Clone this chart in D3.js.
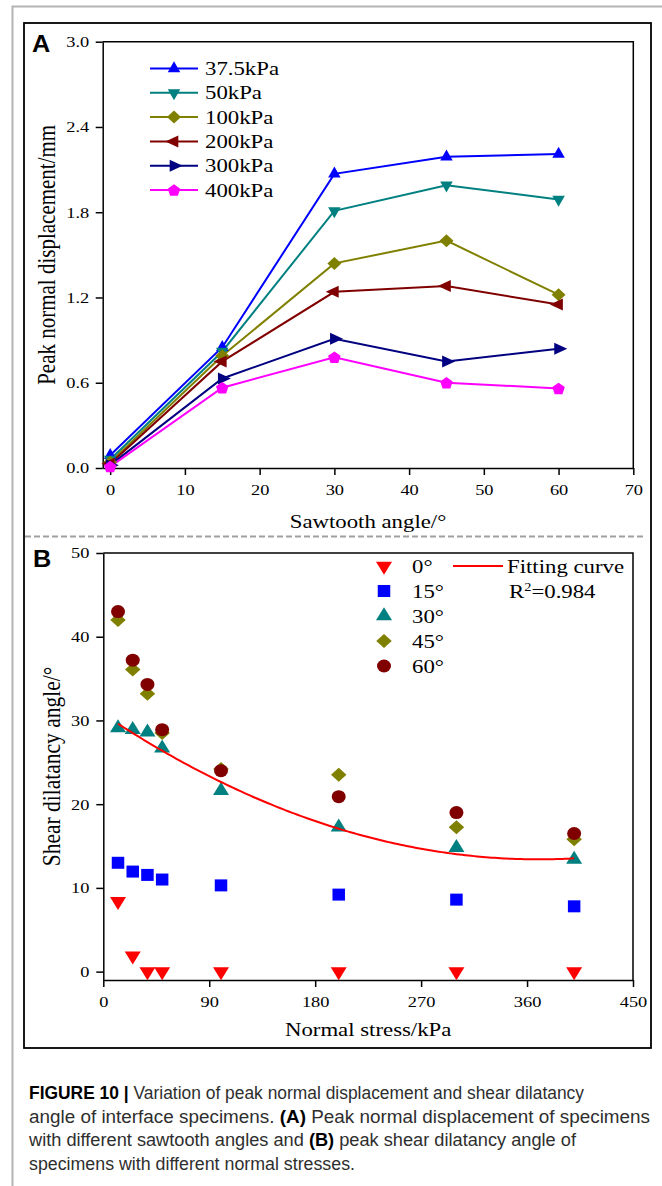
<!DOCTYPE html>
<html>
<head>
<meta charset="utf-8">
<script src="https://cdn.jsdelivr.net/npm/d3@7"></script>
<style>
  html, body { margin: 0; padding: 0; background: #fff; }
  svg { display: block; }
</style>
</head>
<body>
<svg id="fig" width="662" height="1186"></svg>
<script>
// ---------- Panel A: peak normal displacement vs sawtooth angle ----------
const sawtoothAngles = [0, 15, 30, 45, 60];
const pressureLabels = ["37.5kPa", "50kPa", "100kPa", "200kPa", "300kPa", "400kPa"];
const disp37_5kPa = [0.09, 0.85, 2.07, 2.19, 2.21];
const disp50kPa   = [0.06, 0.82, 1.81, 1.99, 1.89];
const disp100kPa  = [0.04, 0.79, 1.44, 1.60, 1.22];
const disp200kPa  = [0.03, 0.75, 1.24, 1.28, 1.15];
const disp300kPa  = [0.02, 0.63, 0.91, 0.75, 0.84];
const disp400kPa  = [0.01, 0.565, 0.78, 0.60, 0.56];
const dispTicks  = [0, 0.6, 1.2, 1.8, 2.4, 3.0];
const angleTicks = [0, 10, 20, 30, 40, 50, 60, 70];

// ---------- Panel B: shear dilatancy angle vs normal stress ----------
const normalStresses = [12.5, 25, 37.5, 50, 100, 200, 300, 400];
const angleLabels = ["0°", "15°", "30°", "45°", "60°"];
const dilatancy0  = [8.4, 1.9, 0, 0, 0, 0, 0, 0];
const dilatancy15 = [13.0, 11.95, 11.55, 11.0, 10.3, 9.2, 8.6, 7.8];
const dilatancy30 = [29.1, 28.9, 28.6, 26.7, 21.6, 17.25, 14.8, 13.4];
const dilatancy45 = [42.0, 36.1, 33.2, 28.5, 24.2, 23.5, 17.25, 15.8];
const dilatancy60 = [43.0, 37.2, 34.3, 28.9, 24.0, 20.9, 19.0, 16.5];
const dilatancyTicks = [0, 10, 20, 30, 40, 50];
const stressTicks = [0, 90, 180, 270, 360, 450];
// quadratic fit y = c0 + c1*x + c2*x^2 over the tested stress range
const fitCoefficients = [30.76, -0.0938, 0.0001268];
const fitStressRange = [12.5, 400];
const fitR2 = "0.984";

// ---------- caption ----------
const captionLines = [
  [["FIGURE 10 | ", true], ["Variation of peak normal displacement and shear dilatancy", false]],
  [["angle of interface specimens. ", false], ["(A)", true], [" Peak normal displacement of specimens", false]],
  [["with different sawtooth angles and ", false], ["(B)", true], [" peak shear dilatancy angle of", false]],
  [["specimens with different normal stresses.", false]]
];

// ---------- styling ----------
const SERIF = "'Liberation Serif','Times New Roman',serif";
const SANS = "'Liberation Sans',Arial,Helvetica,sans-serif";
const SX = 1.2; // horizontal widening of the plot lettering

const seriesA = [
  { label: pressureLabels[0], values: disp37_5kPa, color: "#0000ff", shape: "triangle-up",    w: 12.5, h: 11 },
  { label: pressureLabels[1], values: disp50kPa,   color: "#008080", shape: "triangle-down",  w: 12.5, h: 11 },
  { label: pressureLabels[2], values: disp100kPa,  color: "#808000", shape: "diamond",        w: 14,   h: 13 },
  { label: pressureLabels[3], values: disp200kPa,  color: "#800000", shape: "triangle-left",  w: 13,   h: 12 },
  { label: pressureLabels[4], values: disp300kPa,  color: "#000080", shape: "triangle-right", w: 13,   h: 12 },
  { label: pressureLabels[5], values: disp400kPa,  color: "#ff00ff", shape: "pentagon",       w: 12.5, h: 11.5 }
];
const seriesB = [
  { label: angleLabels[0], values: dilatancy0,  color: "#ff0000", shape: "triangle-down", w: 16,   h: 13 },
  { label: angleLabels[1], values: dilatancy15, color: "#0000ff", shape: "square",        w: 12.5, h: 12 },
  { label: angleLabels[2], values: dilatancy30, color: "#008080", shape: "triangle-up",   w: 16,   h: 13 },
  { label: angleLabels[3], values: dilatancy45, color: "#808000", shape: "diamond",       w: 15.5, h: 14 },
  { label: angleLabels[4], values: dilatancy60, color: "#800000", shape: "circle",        w: 14,   h: 13 }
];

function markerPath(shape, w, h) {
  const a = w / 2, b = h / 2;
  switch (shape) {
    case "triangle-up":    return `M0,${-2 * h / 3}L${a},${h / 3}L${-a},${h / 3}Z`;
    case "triangle-down":  return `M0,${2 * h / 3}L${a},${-h / 3}L${-a},${-h / 3}Z`;
    case "triangle-left":  return `M${-2 * w / 3},0L${w / 3},${-b}L${w / 3},${b}Z`;
    case "triangle-right": return `M${2 * w / 3},0L${-w / 3},${-b}L${-w / 3},${b}Z`;
    case "square":         return `M${-a},${-b}H${a}V${b}H${-a}Z`;
    case "diamond":        return `M0,${-b}L${a},0L0,${b}L${-a},0Z`;
    case "circle":         return `M${a},0A${a},${b} 0 1,1 ${-a},0A${a},${b} 0 1,1 ${a},0Z`;
    case "pentagon": {
      const rx = a / 0.951, ry = h / 1.809, off = (ry - 0.809 * ry) / 2;
      const pts = d3.range(5).map(k => {
        const ang = -Math.PI / 2 + k * 2 * Math.PI / 5;
        return [rx * Math.cos(ang), ry * Math.sin(ang) + off];
      });
      return "M" + pts.map(p => p.join(",")).join("L") + "Z";
    }
  }
  return "";
}

function addText(parent, x, y, str, opts = {}) {
  const tf = `translate(${x},${y}) scale(${opts.sx ?? SX},1)` + (opts.rotate ? ` rotate(${opts.rotate})` : "");
  return parent.append("text")
    .attr("transform", tf)
    .attr("text-anchor", opts.anchor || "start")
    .attr("font-family", opts.family || SERIF)
    .attr("font-size", opts.size || 19)
    .attr("font-weight", opts.weight || "normal")
    .attr("fill", opts.fill || "#000")
    .text(str);
}

function styleAxis(g, leftOffset) {
  g.attr("font-family", null).attr("font-size", null);
  g.select(".domain").attr("stroke", "#000").attr("stroke-width", 1.5);
  g.selectAll(".tick line").attr("stroke", "#000").attr("stroke-width", 1.5);
  const t = g.selectAll(".tick text")
    .attr("font-family", SERIF).attr("font-size", 15.3).attr("fill", "#000")
    .attr("transform", `scale(${SX},1)`);
  if (leftOffset) t.attr("x", -leftOffset / SX);
}

const svg = d3.select("#fig");

// page frame and figure border
svg.append("path").attr("d", "M12.5,1186V6.5H662")
  .attr("fill", "none").attr("stroke", "#b4b4b4").attr("stroke-width", 2);
svg.append("rect").attr("x", 24).attr("y", 23).attr("width", 627).attr("height", 1025)
  .attr("fill", "none").attr("stroke", "#000").attr("stroke-width", 1.8);
svg.append("line").attr("x1", 25).attr("x2", 646).attr("y1", 536.5).attr("y2", 536.5)
  .attr("stroke", "#a0a0a0").attr("stroke-width", 2).attr("stroke-dasharray", "6,3");

// ================= Panel A =================
const gA = svg.append("g");
const xA = d3.scaleLinear().domain([-1, 70]).range([102.7, 633.3]);
const yA = d3.scaleLinear().domain([0, 3]).range([468, 41.7]);

gA.append("path")
  .attr("d", `M${xA.range()[0]},${yA.range()[1]}H${xA.range()[1]}V${yA.range()[0]}`)
  .attr("fill", "none").attr("stroke", "#000").attr("stroke-width", 1.5);

gA.append("g").attr("transform", `translate(0,${yA.range()[0]})`)
  .call(d3.axisBottom(xA).tickValues(angleTicks).tickSize(7).tickPadding(9).tickSizeOuter(0).tickFormat(d3.format("d")))
  .call(g => styleAxis(g));
gA.append("g").attr("transform", `translate(${xA.range()[0]},0)`)
  .call(d3.axisLeft(yA).tickValues(dispTicks).tickSize(7).tickPadding(6).tickSizeOuter(0).tickFormat(d3.format(".1f")))
  .call(g => styleAxis(g, 13.5));

const lineA = d3.line().x((d, i) => xA(sawtoothAngles[i])).y(d => yA(d));
seriesA.forEach(s => {
  gA.append("path").attr("d", lineA(s.values))
    .attr("fill", "none").attr("stroke", s.color).attr("stroke-width", 2);
});
seriesA.forEach(s => {
  gA.append("g").selectAll("path").data(s.values).join("path")
    .attr("transform", (d, i) => `translate(${xA(sawtoothAngles[i])},${yA(d)})`)
    .attr("d", markerPath(s.shape, s.w, s.h))
    .attr("fill", s.color);
});

// legend A
const legA = gA.append("g");
seriesA.forEach((s, i) => {
  const y = 68.5 + i * 24.3;
  legA.append("line").attr("x1", 150).attr("x2", 198).attr("y1", y).attr("y2", y)
    .attr("stroke", s.color).attr("stroke-width", 2);
  legA.append("path").attr("transform", `translate(174,${y})`)
    .attr("d", markerPath(s.shape, s.w, s.h)).attr("fill", s.color);
  addText(legA, 205, y + 6.5, s.label, { size: 19 });
});

addText(gA, 32, 52, "A", { family: SANS, weight: "bold", size: 23, sx: 1.1 });
addText(gA, (xA.range()[0] + xA.range()[1]) / 2, 528, "Sawtooth angle/°", { size: 19, anchor: "middle" });
addText(gA, 55, (yA.range()[0] + yA.range()[1]) / 2, "Peak normal displacement/mm", { size: 21, anchor: "middle", rotate: -90 });

// ================= Panel B =================
const gB = svg.append("g");
const xB = d3.scaleLinear().domain([0, 450]).range([103.3, 633]);
const yB = d3.scaleLinear().domain([-1, 50]).range([980, 553]);

gB.append("path")
  .attr("d", `M${xB.range()[0]},${yB.range()[1]}H${xB.range()[1]}V${yB.range()[0]}`)
  .attr("fill", "none").attr("stroke", "#000").attr("stroke-width", 1.5);

gB.append("g").attr("transform", `translate(0,${yB.range()[0]})`)
  .call(d3.axisBottom(xB).tickValues(stressTicks).tickSize(7).tickPadding(9).tickSizeOuter(0).tickFormat(d3.format("d")))
  .call(g => styleAxis(g));
gB.append("g").attr("transform", `translate(${xB.range()[0]},0)`)
  .call(d3.axisLeft(yB).tickValues(dilatancyTicks).tickSize(7).tickPadding(7).tickSizeOuter(0).tickFormat(d3.format("d")))
  .call(g => styleAxis(g, 14));

seriesB.forEach(s => {
  gB.append("g").selectAll("path").data(s.values).join("path")
    .attr("transform", (d, i) => `translate(${xB(normalStresses[i])},${yB(d)})`)
    .attr("d", markerPath(s.shape, s.w, s.h))
    .attr("fill", s.color);
});

// fitted curve
const fitX = d3.range(fitStressRange[0], fitStressRange[1] + 0.001, 2.5);
const fitY = x => fitCoefficients[0] + fitCoefficients[1] * x + fitCoefficients[2] * x * x;
gB.append("path")
  .attr("d", d3.line().x(d => xB(d)).y(d => yB(fitY(d)))(fitX))
  .attr("fill", "none").attr("stroke", "#ff0000").attr("stroke-width", 2);

// legend B
const legB = gB.append("g");
seriesB.forEach((s, i) => {
  const y = 566 + i * 25;
  legB.append("path").attr("transform", `translate(384,${y})`)
    .attr("d", markerPath(s.shape, s.w, s.h)).attr("fill", s.color);
  addText(legB, 412, y + 6.5, s.label, { size: 19 });
});
legB.append("line").attr("x1", 453).attr("x2", 503).attr("y1", 566).attr("y2", 566)
  .attr("stroke", "#ff0000").attr("stroke-width", 2);
addText(legB, 507, 572.5, "Fitting curve", { size: 19 });
const r2 = addText(legB, 509, 598, "R", { size: 19 });
r2.append("tspan").attr("dy", -7).attr("font-size", 12).text("2");
r2.append("tspan").attr("dy", 7).text("=" + fitR2);

addText(gB, 33, 567, "B", { family: SANS, weight: "bold", size: 23, sx: 1.1 });
addText(gB, (xB.range()[0] + xB.range()[1]) / 2, 1036, "Normal stress/kPa", { size: 19, anchor: "middle" });
addText(gB, 60, (yB.range()[0] + yB.range()[1]) / 2, "Shear dilatancy angle/°", { size: 21.5, anchor: "middle", rotate: -90 });

// ================= caption =================
const captionWidths = [555, 621, 547, 326];
const cap = svg.append("g");
captionLines.forEach((segs, i) => {
  const t = cap.append("text")
    .attr("x", 29).attr("y", 1099 + i * 23.6)
    .attr("font-family", SANS).attr("font-size", 17.5)
    .attr("textLength", captionWidths[i]).attr("lengthAdjust", "spacingAndGlyphs");
  segs.forEach(([str, bold]) => {
    t.append("tspan")
      .attr("font-weight", bold ? "bold" : "normal")
      .attr("fill", bold ? "#000" : "#2e2e2e")
      .text(str);
  });
});
</script>
</body>
</html>
